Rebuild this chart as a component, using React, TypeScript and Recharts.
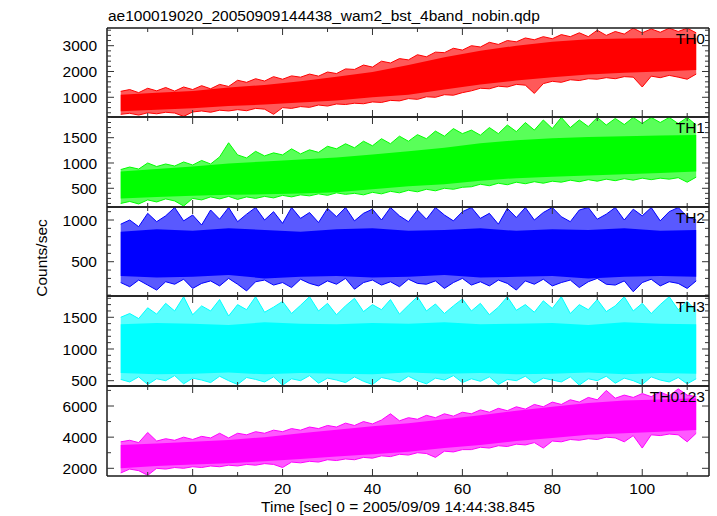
import React from 'react';
import { ComposedChart, Area, XAxis, YAxis } from 'recharts';

const FONT = '"Liberation Sans", Arial, sans-serif';
const FS = 15.5;

const TITLE = 'ae100019020_20050909144438_wam2_bst_4band_nobin.qdp';
const Y_TITLE = 'Counts/sec';
const X_TITLE = 'Time [sec] 0 = 2005/09/09 14:44:38.845';

const TIMES = [
  -16, -14, -12, -10, -8, -6, -4, -2, 0, 2, 4, 6, 8,
  10, 12, 14, 16, 18, 20, 22, 24, 26, 28, 30, 32, 34,
  36, 38, 40, 42, 44, 46, 48, 50, 52, 54, 56, 58, 60,
  62, 64, 66, 68, 70, 72, 74, 76, 78, 80, 82, 84, 86,
  88, 90, 92, 94, 96, 98, 100, 102, 104, 106, 108, 110, 112,
];
const CORE_TIMES = [-16, -8, 0, 8, 16, 24, 32, 40, 48, 56, 64, 72, 80, 88, 96, 104, 112];

const X_TICKS = [-10, 0, 10, 20, 30, 40, 50, 60, 70, 80, 90, 100, 110];
const X_LABELS = [0, 20, 40, 60, 80, 100];
const X_DOMAIN = [-19.05, 114.85];

// TH0
const TH0_HI = [
  1230, 1300, 1180, 1350, 1250, 1380, 1240, 1400, 1300, 1450, 1330, 1500, 1420,
  1660, 1580, 1720, 1630, 1800, 1700, 1830, 1780, 1900, 1820, 1980, 1920, 2100,
  2080, 2250, 2170, 2400, 2330, 2500, 2450, 2650, 2570, 2750, 2730, 2900, 2830,
  3000, 2950, 3130, 3050, 3200, 3150, 3300, 3230, 3350, 3270, 3430, 3350, 3500,
  3350, 3600, 3400, 3550, 3450, 3680, 3500, 3650, 3520, 3680, 3550, 3680, 3500,
];
const TH0_LO = [
  340, 380, 310, 400, 360, 420, 390, 260, 430, 470, 420, 500, 470,
  520, 480, 570, 540, 340, 600, 570, 640, 610, 700, 660, 740, 720,
  770, 750, 820, 800, 880, 860, 950, 920, 1020, 1000, 1100, 1080, 1180,
  1250, 1350, 1330, 1430, 1400, 1500, 1470, 1150, 1530, 1620, 1580, 1680, 1650,
  1720, 1700, 1760, 1720, 1800, 1780, 1400, 1820, 1760, 1850, 1780, 1700, 1900,
];
const TH0_CORE_LO = [460, 520, 580, 660, 720, 800, 880, 1000, 1100, 1300, 1500, 1650, 1780, 1880, 1950, 2000, 2060];
const TH0_CORE_HI = [1100, 1180, 1240, 1380, 1480, 1620, 1800, 1980, 2250, 2550, 2800, 3000, 3150, 3250, 3280, 3300, 3300];

// TH1
const TH1_HI = [
  870, 920, 880, 1000, 930, 980, 940, 1020, 960, 1050, 980, 1120, 1400,
  1160, 1100, 1230, 1140, 1200, 1160, 1280, 1180, 1260, 1210, 1330, 1280, 1380,
  1300, 1430, 1340, 1480, 1380, 1530, 1430, 1560, 1480, 1630, 1530, 1680, 1580,
  1650, 1550, 1700, 1580, 1750, 1620, 1800, 1650, 1850, 1680, 1900, 1700, 1850,
  1720, 1900, 1750, 1880, 1760, 1900, 1780, 1900, 1800, 1900, 1780, 1900, 1750,
];
const TH1_LO = [
  200, 240, 190, 270, 230, 290, 250, 150, 300, 270, 330, 290, 340,
  280, 330, 300, 340, 310, 360, 330, 370, 350, 390, 360, 410, 380,
  400, 370, 420, 390, 440, 410, 460, 430, 480, 450, 500, 480, 520,
  530, 580, 550, 600, 570, 620, 590, 630, 600, 640, 620, 660, 630,
  670, 640, 680, 650, 690, 660, 700, 670, 700, 680, 710, 620, 720,
];
const TH1_CORE_LO = [300, 330, 350, 370, 380, 395, 420, 480, 540, 580, 650, 700, 730, 755, 775, 800, 830];
const TH1_CORE_HI = [830, 880, 930, 990, 1030, 1070, 1110, 1170, 1230, 1300, 1390, 1450, 1490, 1515, 1530, 1545, 1555];

// TH2
const TH2_HI = [
  950, 1000, 920, 1080, 980, 1050, 1150, 990, 1060, 940, 1120, 1010, 1150,
  980, 1070, 1150, 1000, 1100, 960, 1150, 1020, 1090, 970, 1140, 1040, 1150,
  990, 1080, 1130, 1000, 1150, 1050, 980, 1120, 1010, 1150, 1060, 990, 1100,
  1150, 1020, 1080, 950, 1140, 1030, 1150, 1000, 1090, 1150, 1040, 980, 1120,
  1150, 1010, 1070, 1150, 1000, 1130, 1050, 1150, 990, 1100, 1150, 1040, 1000,
];
const TH2_LO = [
  250, 200, 280, 220, 160, 260, 230, 290, 180, 240, 270, 210, 300,
  230, 150, 260, 280, 220, 250, 190, 290, 240, 210, 270, 230, 300,
  170, 250, 280, 220, 260, 200, 290, 240, 230, 270, 180, 250, 300,
  220, 260, 210, 280, 240, 160, 270, 230, 290, 210, 250, 280, 190,
  260, 300, 230, 220, 270, 140, 250, 290, 210, 260, 240, 180, 270,
];
const TH2_CORE_LO = [330, 310, 320, 340, 300, 320, 330, 310, 320, 340, 310, 320, 330, 300, 320, 330, 320];
const TH2_CORE_HI = [860, 890, 870, 900, 880, 860, 890, 900, 870, 880, 900, 870, 890, 880, 900, 870, 880];

// TH3
const TH3_HI = [
  1500, 1560, 1480, 1650, 1550, 1720, 1600, 1825, 1540, 1680, 1600, 1780, 1520,
  1700, 1620, 1825, 1580, 1660, 1750, 1560, 1690, 1825, 1600, 1720, 1540, 1680,
  1800, 1590, 1700, 1620, 1780, 1550, 1690, 1825, 1600, 1710, 1560, 1680, 1790,
  1600, 1720, 1540, 1660, 1825, 1610, 1700, 1580, 1760, 1640, 1825, 1560, 1700,
  1620, 1780, 1590, 1680, 1825, 1600, 1720, 1560, 1700, 1825, 1620, 1750, 1600,
];
const TH3_LO = [
  520, 480, 560, 440, 530, 500, 580, 450, 540, 510, 470, 570, 500,
  440, 550, 520, 480, 560, 430, 530, 500, 580, 460, 540, 510, 470,
  560, 490, 440, 550, 520, 480, 570, 500, 450, 540, 510, 580, 470,
  530, 490, 560, 440, 520, 500, 570, 460, 540, 510, 480, 560, 430,
  530, 500, 570, 460, 540, 500, 440, 560, 510, 480, 550, 450, 530,
];
const TH3_CORE_LO = [620, 600, 610, 630, 600, 620, 610, 600, 630, 610, 620, 600, 610, 630, 600, 620, 610];
const TH3_CORE_HI = [1390, 1410, 1400, 1380, 1420, 1400, 1390, 1410, 1400, 1420, 1390, 1400, 1410, 1380, 1420, 1400, 1390];

// TH0123
const TH0123_HI = [
  3700, 3800, 3650, 4300, 3750, 3900, 3800, 4000, 3850, 4050, 3950, 4250, 3950,
  4250, 4150, 4350, 4250, 4450, 4350, 4550, 4450, 4650, 4550, 4750, 4650, 4900,
  4750, 5000, 4850, 5100, 5500, 5050, 5250, 5150, 5400, 5250, 5500, 5350, 5600,
  5500, 5750, 5600, 5850, 5700, 5950, 5800, 6100, 5950, 6250, 6100, 6400, 6250,
  6550, 6400, 7000, 6500, 6700, 6550, 6800, 6600, 6900, 6650, 7100, 6700, 6600,
];
const TH0123_LO = [
  1700, 1950, 1850, 1550, 2000, 1950, 2050, 2000, 2100, 2050, 2150, 2100, 2200,
  2150, 2250, 2200, 2300, 2250, 2050, 2400, 2350, 2450, 2400, 2550, 2500, 2600,
  2550, 2700, 2650, 2800, 2750, 2900, 2850, 3000, 2950, 2700, 3100, 3050, 3200,
  3200, 3350, 3300, 3450, 3400, 3550, 3500, 3650, 3300, 3750, 3700, 3850, 3800,
  3900, 3850, 4000, 3950, 3700, 4100, 3300, 4150, 4100, 4200, 4150, 3700, 4250,
];
const TH0123_CORE_LO = [2000, 2150, 2250, 2330, 2450, 2600, 2750, 2900, 3070, 3300, 3500, 3750, 3950, 4150, 4250, 4350, 4460];
const TH0123_CORE_HI = [3500, 3600, 3700, 3820, 4000, 4250, 4480, 4700, 4890, 5150, 5400, 5700, 5950, 6200, 6350, 6420, 6490];

// Y ticks and labels
const P1_TICKS = [400, 600, 800, 1000, 1200, 1400, 1600, 1800, 2000, 2200, 2400, 2600, 2800, 3000, 3200, 3400, 3600];
const P1_LABELS = [1000, 2000, 3000];
const P2_TICKS = [200, 300, 400, 500, 600, 700, 800, 900, 1000, 1100, 1200, 1300, 1400, 1500, 1600, 1700, 1800, 1900];
const P2_LABELS = [500, 1000, 1500];
const P3_TICKS = [100, 200, 300, 400, 500, 600, 700, 800, 900, 1000, 1100];
const P3_LABELS = [500, 1000];
const P4_TICKS = [500, 600, 700, 800, 900, 1000, 1100, 1200, 1300, 1400, 1500, 1600, 1700, 1800];
const P4_LABELS = [500, 1000, 1500];
const P5_TICKS = [2000, 3000, 4000, 5000, 6000, 7000];
const P5_LABELS = [2000, 4000, 6000];

const AXIS_LINE = { stroke: '#1a1a1a', strokeWidth: 1.5 };
const TICK_COLOR = '#333';
const PAD = 10;

const PANELS = [
  { name: 'TH0', color: '#ff0000', hi: TH0_HI, lo: TH0_LO, cLo: TH0_CORE_LO, cHi: TH0_CORE_HI, domain: [236, 3686], ticks: P1_TICKS, labels: P1_LABELS, top: 28, bottom: 117 },
  { name: 'TH1', color: '#00ff00', hi: TH1_HI, lo: TH1_LO, cLo: TH1_CORE_LO, cHi: TH1_CORE_HI, domain: [130, 1909], ticks: P2_TICKS, labels: P2_LABELS, top: 117, bottom: 207 },
  { name: 'TH2', color: '#0000ff', hi: TH2_HI, lo: TH2_LO, cLo: TH2_CORE_LO, cHi: TH2_CORE_HI, domain: [89, 1156], ticks: P3_TICKS, labels: P3_LABELS, top: 207, bottom: 296 },
  { name: 'TH3', color: '#00ffff', hi: TH3_HI, lo: TH3_LO, cLo: TH3_CORE_LO, cHi: TH3_CORE_HI, domain: [416, 1836], ticks: P4_TICKS, labels: P4_LABELS, top: 296, bottom: 386 },
  { name: 'TH0123', color: '#ff00ff', hi: TH0123_HI, lo: TH0123_LO, cLo: TH0123_CORE_LO, cHi: TH0123_CORE_HI, domain: [1506, 7284], ticks: P5_TICKS, labels: P5_LABELS, top: 386, bottom: 476 },
];

function makeXTick(dir: number, showLabel: boolean) {
  return (p: any) => {
    const { x, y, payload } = p;
    const v = payload.value;
    const major = X_LABELS.indexOf(v) >= 0;
    const len = major ? 7 : 4;
    return (
      <g>
        <line x1={x} x2={x} y1={y} y2={y + dir * len} stroke={TICK_COLOR} strokeWidth={1} />
        {showLabel && major ? (
          <text x={x} y={y + 17.5} textAnchor="middle" fontFamily={FONT} fontSize={FS} fill="#000">
            {v}
          </text>
        ) : null}
      </g>
    );
  };
}

function makeYTick(dir: number, labels: number[], showLabel: boolean) {
  return (p: any) => {
    const { x, y, payload } = p;
    const v = payload.value;
    const major = labels.indexOf(v) >= 0;
    const len = major ? 7 : 4;
    return (
      <g>
        <line x1={x} x2={x + dir * len} y1={y} y2={y} stroke={TICK_COLOR} strokeWidth={1} />
        {showLabel && major ? (
          <text x={x - 10} y={y} dy="0.36em" textAnchor="end" fontFamily={FONT} fontSize={FS} fill="#000">
            {v}
          </text>
        ) : null}
      </g>
    );
  };
}

function Panel(props: any) {
  const { color, hi, lo, cLo, cHi, domain, ticks, labels, top, bottom, showX } = props;
  const outer = TIMES.map((t, i) => ({ t, band: [lo[i], hi[i]] }));
  const core = CORE_TIMES.map((t, i) => ({ t, band: [cLo[i], cHi[i]] }));
  const extraBottom = showX ? 38 : PAD;
  const h = bottom - top + 2 + PAD + extraBottom;
  return (
    <div style={{ position: 'absolute', left: 0, top: top - 1 - PAD }}>
      <ComposedChart width={717} height={h} margin={{ top: PAD, right: 7, bottom: extraBottom, left: 0 }}>
        <XAxis
          xAxisId="b"
          dataKey="t"
          type="number"
          domain={X_DOMAIN}
          allowDataOverflow
          ticks={X_TICKS}
          interval={0}
          orientation="bottom"
          height={1}
          tickSize={0}
          tickMargin={0}
          tickLine={false}
          axisLine={AXIS_LINE}
          tick={makeXTick(-1, !!showX)}
        />
        <XAxis
          xAxisId="t"
          dataKey="t"
          type="number"
          domain={X_DOMAIN}
          allowDataOverflow
          ticks={X_TICKS}
          interval={0}
          orientation="top"
          height={1}
          tickSize={0}
          tickMargin={0}
          tickLine={false}
          axisLine={AXIS_LINE}
          tick={makeXTick(1, false)}
        />
        <YAxis
          yAxisId="l"
          type="number"
          domain={domain}
          allowDataOverflow
          ticks={ticks}
          interval={0}
          orientation="left"
          width={107}
          tickSize={0}
          tickMargin={0}
          tickLine={false}
          axisLine={AXIS_LINE}
          tick={makeYTick(1, labels, true)}
        />
        <YAxis
          yAxisId="r"
          type="number"
          domain={domain}
          allowDataOverflow
          ticks={ticks}
          interval={0}
          orientation="right"
          width={1}
          tickSize={0}
          tickMargin={0}
          tickLine={false}
          axisLine={AXIS_LINE}
          tick={makeYTick(-1, labels, false)}
        />
        <Area
          xAxisId="b"
          yAxisId="l"
          data={outer}
          dataKey="band"
          type="linear"
          stroke={color}
          strokeOpacity={1}
          strokeWidth={1}
          fill={color}
          fillOpacity={0.65}
          dot={false}
          activeDot={false}
          isAnimationActive={false}
        />
        <Area
          xAxisId="b"
          yAxisId="l"
          data={core}
          dataKey="band"
          type="linear"
          stroke="none"
          fill={color}
          fillOpacity={1}
          dot={false}
          activeDot={false}
          isAnimationActive={false}
        />
      </ComposedChart>
    </div>
  );
}

export default function App() {
  return (
    <div style={{ position: 'absolute', left: 0, top: 0, width: 717, height: 516, background: '#fff', overflow: 'hidden' }}>
      {PANELS.map((p, i) => (
        <Panel key={p.name} {...p} showX={i === PANELS.length - 1} />
      ))}
      <svg width={717} height={516} style={{ position: 'absolute', left: 0, top: 0, pointerEvents: 'none' }}>
        <text x={108} y={20.5} fontFamily={FONT} fontSize={FS} fill="#000">{TITLE}</text>
        <text transform="translate(47,258) rotate(-90)" textAnchor="middle" fontFamily={FONT} fontSize={FS} fill="#000">{Y_TITLE}</text>
        <text x={398} y={511.5} textAnchor="middle" fontFamily={FONT} fontSize={FS} fill="#000">{X_TITLE}</text>
        {PANELS.map((p) => (
          <text key={p.name} x={705} y={p.top + 15.5} textAnchor="end" fontFamily={FONT} fontSize={FS} fill="#000">{p.name}</text>
        ))}
      </svg>
    </div>
  );
}
